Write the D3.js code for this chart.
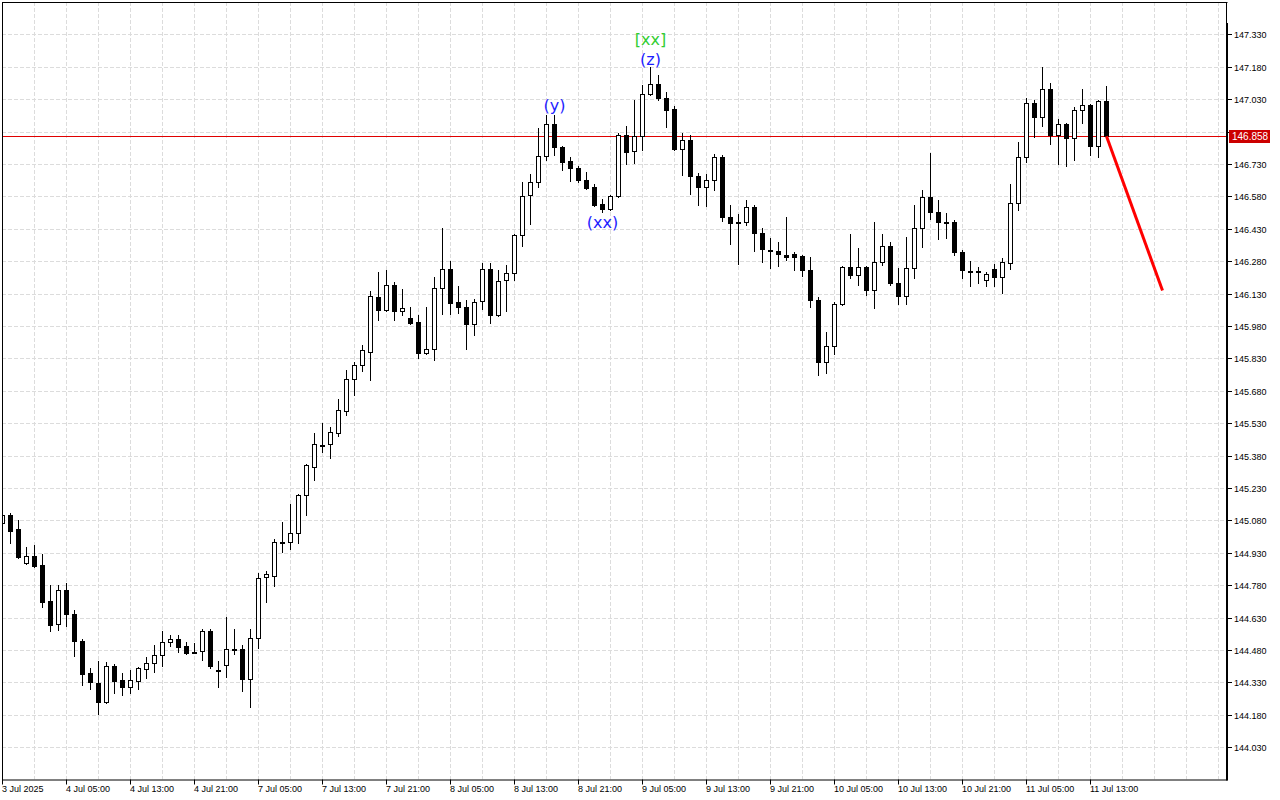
<!DOCTYPE html>
<html><head><meta charset="utf-8">
<script src="https://cdn.jsdelivr.net/npm/d3@7/dist/d3.min.js"></script>
<style>html,body{margin:0;padding:0;background:#fff;overflow:hidden}</style>
</head><body><svg id="c" width="1280" height="800"></svg>
<script>
// H1 candles, bar 0 = 3 Jul 2025 21:00
const open=[145.068,145.105,145.039,144.881,144.914,144.872,144.706,144.599,144.756,144.645,
144.520,144.372,144.326,144.238,144.405,144.340,144.310,144.338,144.391,144.419,
144.456,144.516,144.530,144.497,144.472,144.474,144.567,144.386,144.409,144.483,
144.483,144.347,144.534,144.817,144.824,144.979,144.979,145.020,145.196,145.329,
145.431,145.432,145.486,145.588,145.733,145.798,145.861,146.113,146.056,146.169,
146.051,146.016,145.997,145.856,145.875,146.155,146.243,146.090,146.067,145.991,
146.094,146.243,146.032,146.192,146.224,146.400,146.585,146.645,146.766,146.914,
146.807,146.743,146.710,146.655,146.622,146.544,146.520,146.581,146.863,146.789,
146.858,147.053,147.099,147.034,146.983,146.798,146.840,146.673,146.622,146.655,
146.761,146.483,146.460,146.460,146.530,146.409,146.331,146.326,146.307,146.312,
146.303,146.238,146.099,145.812,145.886,146.081,146.252,146.215,146.252,146.145,
146.275,146.349,146.178,146.118,146.247,146.432,146.576,146.506,146.460,146.460,
146.321,146.235,146.233,146.192,146.243,146.206,146.270,146.548,146.761,147.011,
146.946,147.076,146.863,146.914,146.849,146.979,147.002,146.812,147.020];
const high=[145.114,145.113,145.082,144.957,144.966,144.923,144.780,144.780,144.789,144.664,
144.531,144.395,144.428,144.423,144.414,144.372,144.386,144.400,144.446,144.502,
144.567,144.548,144.548,144.516,144.511,144.576,144.576,144.428,144.631,144.576,
144.502,144.576,144.835,144.844,144.994,145.073,145.156,145.201,145.340,145.485,
145.531,145.512,145.642,145.776,145.812,145.891,146.141,146.230,146.239,146.182,
146.150,146.067,146.030,146.067,146.206,146.434,146.280,146.164,146.099,146.104,
146.270,146.270,146.238,146.261,146.406,146.645,146.682,146.897,146.956,146.956,
146.813,146.761,146.719,146.692,146.636,146.567,146.585,146.872,146.905,147.025,
147.094,147.178,147.141,147.062,146.999,146.872,146.863,146.687,146.682,146.775,
146.772,146.539,146.497,146.562,146.540,146.432,146.386,146.368,146.483,146.321,
146.307,146.298,146.113,145.951,146.090,146.258,146.405,146.340,146.258,146.460,
146.405,146.368,146.247,146.391,146.539,146.608,146.780,146.562,146.502,146.469,
146.331,146.280,146.252,146.229,146.266,146.293,146.636,146.831,147.034,147.025,
147.178,147.104,146.937,146.919,146.993,147.076,147.008,147.025,147.090];
const low=[145.054,144.977,144.906,144.878,144.864,144.681,144.569,144.574,144.593,144.454,
144.319,144.301,144.181,144.235,144.282,144.273,144.282,144.301,144.352,144.380,
144.407,144.500,144.472,144.463,144.468,144.435,144.394,144.310,144.356,144.460,
144.292,144.218,144.491,144.704,144.778,144.934,144.948,144.975,145.105,145.267,
145.395,145.370,145.472,145.569,145.662,145.773,145.731,146.009,146.051,146.009,
146.032,145.991,145.833,145.852,145.824,146.037,146.037,146.042,145.875,145.940,
146.057,145.995,146.028,146.051,146.193,146.352,146.454,146.625,146.750,146.770,
146.702,146.650,146.645,146.613,146.536,146.506,146.517,146.577,146.729,146.733,
146.794,147.050,147.025,146.900,146.794,146.678,146.590,146.539,146.534,146.610,
146.465,146.358,146.266,146.446,146.326,146.275,146.247,146.256,146.284,146.238,
146.210,146.067,145.752,145.761,145.849,146.076,146.201,146.169,146.122,146.062,
146.261,146.169,146.081,146.081,146.201,146.344,146.474,146.381,146.386,146.307,
146.201,146.164,146.178,146.164,146.163,146.131,146.243,146.516,146.738,146.854,
146.905,146.821,146.729,146.719,146.747,146.919,146.770,146.761,146.858];
const close=[145.105,145.032,144.909,144.914,144.868,144.704,144.597,144.756,144.644,144.519,
144.370,144.333,144.241,144.405,144.338,144.310,144.340,144.395,144.419,144.456,
144.516,144.530,144.495,144.468,144.469,144.567,144.407,144.386,144.483,144.483,
144.347,144.534,144.812,144.831,144.979,144.979,145.020,145.198,145.335,145.432,
145.428,145.488,145.590,145.733,145.798,145.869,146.118,146.056,146.169,146.051,
146.062,145.995,145.856,145.875,146.155,146.243,146.088,146.067,145.991,146.090,
146.243,146.032,146.187,146.224,146.400,146.582,146.645,146.766,146.914,146.807,
146.738,146.710,146.655,146.618,146.539,146.520,146.581,146.863,146.784,146.858,
147.053,147.099,147.034,146.979,146.798,146.840,146.673,146.622,146.655,146.761,
146.483,146.456,146.460,146.530,146.409,146.335,146.327,146.312,146.298,146.298,
146.238,146.099,145.812,145.886,146.081,146.252,146.215,146.252,146.145,146.275,
146.349,146.178,146.118,146.247,146.432,146.576,146.506,146.460,146.460,146.321,
146.238,146.235,146.233,146.220,146.206,146.275,146.548,146.761,147.011,146.946,
147.076,146.863,146.914,146.849,146.979,147.002,146.812,147.020,146.858];

const yTickValues=[144.030,144.180,144.330,144.480,144.630,144.780,144.930,145.080,145.230,145.380,
145.530,145.680,145.830,145.980,146.130,146.280,146.430,146.580,146.730,146.880,147.030,147.180,147.330];
const xTickLabels=["3 Jul 2025","4 Jul 05:00","4 Jul 13:00","4 Jul 21:00","7 Jul 05:00","7 Jul 13:00",
"7 Jul 21:00","8 Jul 05:00","8 Jul 13:00","8 Jul 21:00","9 Jul 05:00","9 Jul 13:00","9 Jul 21:00",
"10 Jul 05:00","10 Jul 13:00","10 Jul 21:00","11 Jul 05:00","11 Jul 13:00"];
const xTickBars=[0,8,16,24,32,40,48,56,64,72,80,88,96,104,112,120,128,136];
const currentPrice=146.858;
const forecastBars=[138,145];
const forecastPrices=[146.858,146.144];
const annotationTexts=["(y)","(xx)","(z)","[xx]"];
const annotationBars=[69,75,81,81];
const annotationPrices=[147.003,146.459,147.216,147.306];
const annotationColors=["#1e1eff","#1e1eff","#1e1eff","#32cd32"];

const L=2, R=1226.5, T=2, B=779.5;
const x=d3.scaleLinear().domain([0,153]).range([2.5,1226.5]);
const y=d3.scaleLinear().domain([143.88,147.48]).range([779.5,2]);
const svg=d3.select("#c");
const px=v=>Math.round(v)+0.5;

svg.append("defs").append("clipPath").attr("id","clip")
  .append("rect").attr("x",2.5).attr("y",2.5).attr("width",R-2.5).attr("height",B-2.5);
const plot=svg.append("g").attr("clip-path","url(#clip)");

// grid
const grid=plot.append("g").attr("stroke","#dcdcdc").attr("stroke-width",1).attr("stroke-dasharray","4,2");
grid.selectAll("line.h").data(yTickValues).join("line").attr("class","h")
  .attr("x1",L).attr("x2",R).attr("y1",d=>px(y(d))).attr("y2",d=>px(y(d)));
grid.selectAll("line.v").data(d3.range(0,154,4)).join("line").attr("class","v")
  .attr("x1",d=>px(x(d)-0.5)).attr("x2",d=>px(x(d)-0.5)).attr("y1",T).attr("y2",B);

// current price line
plot.append("line").attr("x1",L).attr("x2",R)
  .attr("y1",px(y(currentPrice))).attr("y2",px(y(currentPrice)))
  .attr("stroke","#e00000").attr("stroke-width",1);

// candles
const bars=d3.range(open.length);
const cg=plot.append("g");
cg.selectAll("line.w").data(bars).join("line").attr("class","w")
  .attr("x1",i=>x(i)).attr("x2",i=>x(i))
  .attr("y1",i=>Math.round(y(high[i]))).attr("y2",i=>Math.round(y(low[i]))+1)
  .attr("stroke","#000").attr("stroke-width",1);
cg.selectAll("rect.b").data(bars).join("rect").attr("class","b")
  .attr("x",i=>x(i)-2).attr("width",4)
  .attr("y",i=>Math.round(Math.min(y(open[i]),y(close[i])))+0.5)
  .attr("height",i=>Math.max(1,Math.round(Math.max(y(open[i]),y(close[i])))-Math.round(Math.min(y(open[i]),y(close[i])))))
  .attr("fill",i=>close[i]>open[i]?"#fff":"#000")
  .attr("stroke","#000").attr("stroke-width",1);

// forecast line
plot.append("path")
  .attr("d",d3.line().x((d,k)=>x(forecastBars[k])).y(d=>y(d))(forecastPrices))
  .attr("stroke","#ff0000").attr("stroke-width",3).attr("fill","none");

// annotations
plot.selectAll("text.a").data(annotationTexts).join("text").attr("class","a")
  .attr("x",(d,k)=>x(annotationBars[k])).attr("y",(d,k)=>y(annotationPrices[k])+5.5)
  .attr("text-anchor","middle").attr("font-family","DejaVu Sans").attr("font-size",16)
  .attr("fill",(d,k)=>annotationColors[k]).text(d=>d);

// frame
svg.append("line").attr("x1",2.5).attr("x2",2.5).attr("y1",2).attr("y2",B+0.5).attr("stroke","#000");
svg.append("line").attr("x1",2).attr("x2",R+1).attr("y1",2.5).attr("y2",2.5).attr("stroke","#000");
svg.append("line").attr("x1",2).attr("x2",R+1).attr("y1",px(B)-0.5).attr("y2",px(B)-0.5).attr("stroke","#000");
svg.append("line").attr("x1",1226.5).attr("x2",1226.5).attr("y1",2).attr("y2",24).attr("stroke","#000");
svg.append("line").attr("x1",1227).attr("x2",1227).attr("y1",23).attr("y2",B+1).attr("stroke","#000").attr("stroke-width",2);

// y axis
const ya=svg.append("g");
ya.selectAll("line").data(yTickValues).join("line")
  .attr("x1",1228).attr("x2",1232).attr("y1",d=>px(y(d))).attr("y2",d=>px(y(d))).attr("stroke","#000");
ya.selectAll("text").data(yTickValues).join("text")
  .attr("x",1234).attr("y",d=>Math.round(y(d))+3.5)
  .attr("font-family","Liberation Sans, Arial, sans-serif").attr("font-size",9).attr("fill","#000")
  .text(d=>d3.format(".3f")(d));

// current price label
const cy=Math.round(y(currentPrice));
svg.append("rect").attr("x",1229).attr("y",cy-6).attr("width",41).attr("height",13).attr("fill","#cc0000");
svg.append("text").attr("x",1232).attr("y",cy+4).attr("font-family","Liberation Sans, Arial, sans-serif")
  .attr("font-size",10).attr("fill","#fff").text(d3.format(".3f")(currentPrice));

// x axis
const xa=svg.append("g");
xa.selectAll("line").data(xTickBars).join("line")
  .attr("x1",d=>x(d)).attr("x2",d=>x(d)).attr("y1",B).attr("y2",B+5).attr("stroke","#000");
xa.selectAll("text").data(xTickLabels).join("text")
  .attr("x",(d,k)=>x(xTickBars[k])-0.5).attr("y",792)
  .attr("font-family","Liberation Sans, Arial, sans-serif").attr("font-size",9).attr("fill","#000")
  .text(d=>d);
</script></body></html>
